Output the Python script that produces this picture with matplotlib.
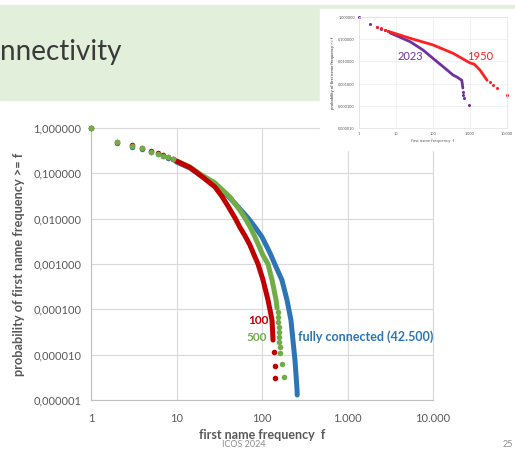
import matplotlib.pyplot as plt
from matplotlib.patches import Rectangle

plt.rcParams['font.family'] = ['Lato', 'DejaVu Sans']

# ---- main chart: probability that a first name has frequency >= f ----
f_head = [1, 2, 3, 4, 5, 6, 7, 8, 9]
p_head_100 = [1.0, 0.50, 0.42, 0.365, 0.31, 0.275, 0.25, 0.23, 0.21]
p_head_500 = [1.0, 0.50, 0.40, 0.357, 0.30, 0.267, 0.245, 0.226, 0.207]
p_head_full = [1.0, 0.467, 0.385, 0.345, 0.295, 0.262, 0.24, 0.222, 0.204]

f_body_100 = [10, 14.4, 18.8, 28.2, 34.0, 40.0, 48.3, 55.3, 63.2, 72.4, 78.5, 89.8,
              102.8, 117.5, 131, 134.5]
p_body_100 = [0.187, 0.134, 0.092, 0.050, 0.031, 0.019, 0.0104, 0.0064, 0.0042,
              0.0026, 0.0018, 0.001, 4.43e-4, 1.61e-4, 5.8e-5, 2.1e-5]
f_tail_100 = [138, 140, 142]
p_tail_100 = [1.15e-5, 5.6e-6, 3.05e-6]

f_body_500 = [10, 14.4, 18.8, 28.2, 42.2, 55.3, 63.2, 72.4, 82.8, 94.8, 102.8, 117.5,
              131, 146, 150]
p_body_500 = [0.187, 0.138, 0.0967, 0.0612, 0.0301, 0.0152, 0.0104, 0.0066, 0.00394,
              0.0022, 0.00155, 0.001, 4.43e-4, 1.61e-4, 1.07e-4]
f_tail_500 = [153, 154, 155, 156, 157, 158, 159, 161, 163, 171, 181]
p_tail_500 = [8.7e-5, 6.8e-5, 5.25e-5, 4.07e-5, 3.16e-5, 2.45e-5, 1.9e-5, 1.48e-5,
              1.09e-5, 6.2e-6, 3.2e-6]

f_body_full = [10, 14.4, 18.8, 28.2, 42.2, 55.3, 68.6, 83, 100, 124, 146, 171, 196, 218,
               230, 243, 250, 257, 258]
p_body_full = [0.178, 0.131, 0.0919, 0.0582, 0.0286, 0.0163, 0.01035, 0.0065, 0.00394,
               0.00175, 8.6e-4, 4.43e-4, 1.61e-4, 5.8e-5, 2.1e-5, 7.6e-6, 3.56e-6,
               1.66e-6, 1.29e-6]

x_ticks = [1, 10, 100, 1000, 10000]
x_tick_labels = ['1', '10', '100', '1.000', '10.000']
y_ticks = [1, 1e-1, 1e-2, 1e-3, 1e-4, 1e-5, 1e-6]
y_tick_labels = ['1,000000', '0,100000', '0,010000', '0,001000', '0,000100',
                 '0,000010', '0,000001']

# ---- inset: 2023 vs 1950 ----
f_head_2023 = [1, 2, 3, 4, 5, 6]
p_head_2023 = [1.0, 0.48, 0.36, 0.30, 0.255, 0.23]
f_body_2023 = [7, 24, 53, 128, 240, 350, 440, 600, 640]
p_body_2023 = [0.19, 0.077, 0.033, 0.0097, 0.0041, 0.0024, 0.0020, 0.0014, 6.3e-4]
f_tail_2023 = [650, 660, 670, 960]
p_tail_2023 = [4.3e-4, 3.1e-4, 2.2e-4, 1.1e-4]

f_head_1950 = [3, 4, 5, 6]
p_head_1950 = [0.37, 0.31, 0.26, 0.235]
f_body_1950 = [7, 24, 100, 350, 1000, 1300, 1850, 2900]
p_body_1950 = [0.21, 0.11, 0.055, 0.023, 0.0085, 0.0075, 0.0041, 0.0014]
f_tail_1950 = [3500, 4200, 5300, 10000]
p_tail_1950 = [0.0012, 8.6e-4, 6.3e-4, 3.1e-4]

inset_y_ticks = [1, 1e-1, 1e-2, 1e-3, 1e-4, 1e-5]
inset_y_tick_labels = y_tick_labels[:6]

RED = '#C00000'
GREEN = '#70AD47'
BLUE = '#2E75B6'
PURPLE = '#7030A0'
RED2 = '#FF2020'
GRID = '#D9D9D9'
TXT = '#595959'

fig = plt.figure(figsize=(5.15, 4.5), dpi=100)

# slide decoration
fig.patches.append(Rectangle((0, 0.7778), 1, 0.2111, transform=fig.transFigure,
                             color='#E2EFDA', zorder=0.5))
fig.patches.append(Rectangle((0.6214, 0.6667), 0.3786, 0.3133, transform=fig.transFigure,
                             color='white', zorder=2))
fig.text(0.0, 0.885, 'nnectivity', fontsize=20, color='#3A3A3A', va='center', ha='left')
fig.text(0.474, 0.012, 'ICOS 2024', fontsize=6.5, color='#8C8C8C', ha='center', va='center')
fig.text(0.996, 0.012, '25', fontsize=6.5, color='#8C8C8C', ha='right', va='center')

# main chart
ax = fig.add_axes([0.1767, 0.1111, 0.6641, 0.6044])
ax.set_xscale('log')
ax.set_yscale('log')
ax.set_xlim(1, 10000)
ax.set_ylim(1e-6, 1)

for fb, pb, col in [(f_body_full, p_body_full, BLUE), (f_body_500, p_body_500, GREEN),
                    (f_body_100, p_body_100, RED)]:
    ax.plot(fb, pb, color=col, lw=3.6, solid_capstyle='round', solid_joinstyle='round',
            zorder=3)
ax.plot(f_tail_100, p_tail_100, 'o', color=RED, ms=4, mec='none', zorder=3)
ax.plot(f_tail_500, p_tail_500, 'o', color=GREEN, ms=4, mec='none', zorder=3)
ax.plot(f_head, p_head_full, 'o', color=BLUE, ms=4, mec='none', zorder=3, clip_on=False)
ax.plot(f_head, p_head_100, 'o', color=RED, ms=4, mec='none', zorder=3, clip_on=False)
ax.plot(f_head, p_head_500, 'o', color=GREEN, ms=4, mec='none', zorder=3, clip_on=False)

ax.text(118, 5.8e-5, '100', color=RED, fontsize=8.5, fontweight='bold', ha='right', va='center')
ax.text(115, 2.45e-5, '500', color=GREEN, fontsize=8.5, fontweight='bold', ha='right', va='center')
ax.text(262, 2.45e-5, 'fully connected (42.500)', color=BLUE, fontsize=9,
        fontweight='bold', ha='left', va='center')

ax.set_xticks(x_ticks)
ax.set_xticklabels(x_tick_labels)
ax.set_yticks(y_ticks)
ax.set_yticklabels(y_tick_labels)
ax.minorticks_off()
ax.tick_params(length=0, labelsize=8, labelcolor=TXT)
ax.tick_params(axis='x', pad=9)
ax.tick_params(axis='y', pad=7)
ax.grid(True, color=GRID, lw=0.8)
ax.set_axisbelow(True)
for side in ['top', 'right']:
    ax.spines[side].set_color(GRID)
    ax.spines[side].set_linewidth(0.8)
for side in ['left', 'bottom']:
    ax.spines[side].set_color('#BFBFBF')
    ax.spines[side].set_linewidth(0.8)
ax.set_xlabel('first name frequency  f', fontsize=9, fontweight='bold', color=TXT, labelpad=4)
ax.set_ylabel('probability of first name frequency >= f', fontsize=9.2, fontweight='bold',
              color=TXT, labelpad=6)

# inset chart
ins = fig.add_axes([0.6971, 0.7156, 0.2874, 0.2467])
ins.set_zorder(3)
ins.set_xscale('log')
ins.set_yscale('log')
ins.set_xlim(1, 10000)
ins.set_ylim(1e-5, 1)
ins.plot(f_body_2023, p_body_2023, color=PURPLE, lw=2, solid_capstyle='round')
ins.plot(f_body_1950, p_body_1950, color=RED2, lw=2, solid_capstyle='round')
ins.plot(f_head_2023, p_head_2023, 'o', color=PURPLE, ms=2.2, mec='none', clip_on=False)
ins.plot(f_head_1950, p_head_1950, 'o', color=RED2, ms=2.2, mec='none')
ins.plot(f_tail_2023, p_tail_2023, 'o', color=PURPLE, ms=2.2, mec='none')
ins.plot(f_tail_1950, p_tail_1950, 'o', color=RED2, ms=2.2, mec='none', clip_on=False)
ins.text(25, 0.0158, '2023', color=PURPLE, fontsize=8, ha='center', va='center')
ins.text(1870, 0.0158, '1950', color=RED2, fontsize=8, ha='center', va='center')
ins.set_xticks(x_ticks)
ins.set_xticklabels(x_tick_labels)
ins.set_yticks(inset_y_ticks)
ins.set_yticklabels(inset_y_tick_labels)
ins.minorticks_off()
ins.tick_params(length=0, labelsize=2.8, labelcolor=TXT, pad=3)
ins.grid(True, color='#EBEBEB', lw=0.5)
ins.set_axisbelow(True)
for side in ins.spines:
    ins.spines[side].set_color('#E0E0E0')
    ins.spines[side].set_linewidth(0.5)
ins.set_xlabel('first name frequency  f', fontsize=3.2, color=TXT, labelpad=2)
ins.set_ylabel('probability of first name frequency >= f', fontsize=3, fontweight='bold',
               color=TXT, labelpad=2)

fig.savefig('out.png', dpi=100)
